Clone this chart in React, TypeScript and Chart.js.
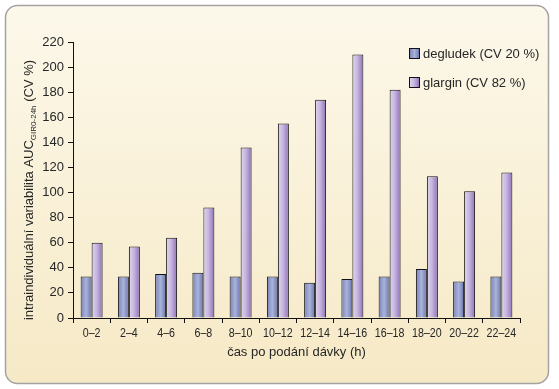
import React, { useEffect, useRef } from "react";
import { Chart, registerables } from "chart.js";

Chart.register(...registerables);

const categories = ["0–2", "2–4", "4–6", "6–8", "8–10", "10–12", "12–14", "14–16", "16–18", "18–20", "20–22", "22–24"];
const degludekValues = [33, 33, 35, 36, 33, 33, 28, 31, 33, 39, 29, 33];
const glarginValues = [60, 57, 64, 88, 136, 155, 174, 210, 182, 113, 101, 116];
const seriesLabels = ["degludek (CV 20 %)", "glargin (CV 82 %)"];
const yTitleMain = "intraindividuální variabilita AUC";
const yTitleSub = "GIR0-24h";
const yTitleEnd = " (CV %)";
const xTitle = "čas po podání dávky (h)";

const FONT = "'Liberation Sans', Arial, Helvetica, sans-serif";
const TEXT = "#262626";
const CAT_PCT = 0.59;

const stopsDeg: [number, string][] = [
  [0, "#7882BA"],
  [0.5, "#AAB3DA"],
  [1, "#6975AC"],
];
const stopsGla: [number, string][] = [
  [0, "#E0D6EF"],
  [0.45, "#C6B6E0"],
  [1, "#8F72B6"],
];
const stopsList = [stopsDeg, stopsGla];
const solidList = ["#9AA3CE", "#C2B1DD"];

function grad(ctx: CanvasRenderingContext2D, left: number, width: number, stops: [number, string][]) {
  const g = ctx.createLinearGradient(left, 0, left + width, 0);
  stops.forEach(([o, c]) => g.addColorStop(o, c));
  return g;
}

function scriptBg(dsIndex: number) {
  return (c: any) => {
    const chart = c.chart;
    const xs = chart.scales?.x;
    if (c.type !== "data" || !xs || !chart.chartArea) return solidList[dsIndex];
    const cw = xs.width / categories.length;
    const center = xs.getPixelForValue(c.dataIndex);
    const pair = cw * CAT_PCT;
    const bw = pair / 2;
    const left = center - pair / 2 + dsIndex * bw;
    return grad(chart.ctx, left, bw, stopsList[dsIndex]);
  };
}

const backgroundPlugin = {
  id: "bgPanel",
  beforeDraw(chart: any) {
    const ctx = chart.ctx as CanvasRenderingContext2D;
    ctx.save();
    ctx.fillStyle = "#ffffff";
    ctx.fillRect(0, 0, chart.width, chart.height);
    const x = 5.5, y = 5.5, w = 543, h = 378, r = 12;
    ctx.beginPath();
    ctx.moveTo(x + r, y);
    ctx.lineTo(x + w - r, y);
    ctx.arcTo(x + w, y, x + w, y + r, r);
    ctx.lineTo(x + w, y + h - r);
    ctx.arcTo(x + w, y + h, x + w - r, y + h, r);
    ctx.lineTo(x + r, y + h);
    ctx.arcTo(x, y + h, x, y + h - r, r);
    ctx.lineTo(x, y + r);
    ctx.arcTo(x, y, x + r, y, r);
    ctx.closePath();
    const g = ctx.createLinearGradient(0, y, 0, y + h);
    g.addColorStop(0, "#FCF8EA");
    g.addColorStop(1, "#F6E9C6");
    ctx.fillStyle = g;
    ctx.fill();
    ctx.lineWidth = 1.5;
    ctx.strokeStyle = "#A3A3A3";
    ctx.stroke();
    ctx.restore();
  },
};

const textPlugin = {
  id: "texts",
  afterDraw(chart: any) {
    const ctx = chart.ctx as CanvasRenderingContext2D;
    const ca = chart.chartArea;
    const xs = chart.scales.x;

    // x tick labels (condensed, like the original's narrow face)
    ctx.save();
    ctx.fillStyle = TEXT;
    ctx.font = `13px ${FONT}`;
    ctx.textAlign = "center";
    ctx.textBaseline = "middle";
    const labels: string[] = xs.getLabels();
    labels.forEach((lab, i) => {
      const px = xs.getPixelForValue(i);
      ctx.save();
      ctx.translate(px, 333);
      ctx.scale(0.82, 1);
      ctx.fillText(lab, 0, 0);
      ctx.restore();
    });

    // x title
    ctx.fillText(xTitle, (ca.left + ca.right) / 2, 352);

    // y title with subscript
    const mainFont = `13px ${FONT}`;
    const subFont = `8px ${FONT}`;
    ctx.font = mainFont;
    const w1 = ctx.measureText(yTitleMain).width;
    const w3 = ctx.measureText(yTitleEnd).width;
    ctx.font = subFont;
    const w2 = ctx.measureText(yTitleSub).width;
    const total = w1 + w2 + w3;
    ctx.translate(33, 190);
    ctx.rotate(-Math.PI / 2);
    ctx.textAlign = "left";
    ctx.textBaseline = "alphabetic";
    let pos = -total / 2;
    ctx.font = mainFont;
    ctx.fillText(yTitleMain, pos, 0);
    pos += w1;
    ctx.font = subFont;
    ctx.fillText(yTitleSub, pos, 2.5);
    pos += w2;
    ctx.font = mainFont;
    ctx.fillText(yTitleEnd, pos, 0);
    ctx.restore();

    // legend
    ctx.save();
    const boxX = 409.5;
    const rows = [48.5, 77.5];
    chart.data.datasets.forEach((ds: any, i: number) => {
      const by = rows[i];
      ctx.fillStyle = grad(ctx, boxX, 10, stopsList[i]);
      ctx.fillRect(boxX, by, 10, 10);
      ctx.lineWidth = 1;
      ctx.strokeStyle = "#111";
      ctx.strokeRect(boxX, by, 10, 10);
      ctx.fillStyle = TEXT;
      ctx.font = `13px ${FONT}`;
      ctx.textAlign = "left";
      ctx.textBaseline = "alphabetic";
      ctx.fillText(ds.label, 423, by + 9);
    });
    ctx.restore();
  },
};

export default function App() {
  const ref = useRef<HTMLCanvasElement | null>(null);
  useEffect(() => {
    if (!ref.current) return;
    const chart = new Chart(ref.current, {
      type: "bar",
      data: {
        labels: categories,
        datasets: [
          {
            label: seriesLabels[0],
            data: degludekValues,
            backgroundColor: scriptBg(0) as any,
            borderColor: "#111",
            borderWidth: 1,
            categoryPercentage: CAT_PCT,
            barPercentage: 1,
          },
          {
            label: seriesLabels[1],
            data: glarginValues,
            backgroundColor: scriptBg(1) as any,
            borderColor: "#111",
            borderWidth: 1,
            categoryPercentage: CAT_PCT,
            barPercentage: 1,
          },
        ],
      },
      options: {
        animation: false,
        responsive: false,
        devicePixelRatio: 1,
        layout: { padding: { left: 0, top: 42, right: 39, bottom: 0 } },
        plugins: { legend: { display: false }, tooltip: { enabled: false }, title: { display: false } },
        scales: {
          x: {
            offset: true,
            grid: { offset: true, drawOnChartArea: false, drawTicks: true, tickLength: 5, color: "#111", lineWidth: 1 },
            border: { display: true, color: "#111", width: 1 },
            ticks: { display: false, autoSkip: false },
            afterFit: (s: any) => {
              s.height = 71;
            },
          },
          y: {
            min: 0,
            max: 220,
            grid: { drawOnChartArea: false, drawTicks: true, tickLength: 5, color: "#111", lineWidth: 1 },
            border: { display: true, color: "#111", width: 1 },
            ticks: { stepSize: 20, color: TEXT, font: { family: FONT, size: 13 }, padding: 4 },
            afterFit: (s: any) => {
              s.width = 73;
            },
          },
        },
      },
      plugins: [backgroundPlugin, textPlugin],
    });
    return () => chart.destroy();
  }, []);
  return (
    <div style={{ position: "absolute", left: 0, top: 0, width: 559, height: 389 }}>
      <canvas ref={ref} width={559} height={389} style={{ display: "block", width: 559, height: 389 }} />
    </div>
  );
}
